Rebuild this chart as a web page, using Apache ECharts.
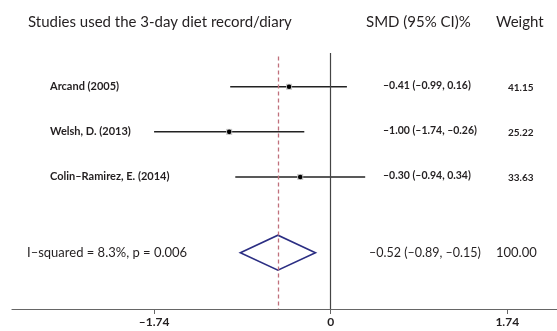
<!DOCTYPE html>
<html>
<head>
<meta charset="utf-8">
<script src="https://cdn.jsdelivr.net/npm/echarts@6/dist/echarts.min.js"></script>
<style>
  html, body { margin: 0; padding: 0; background: #fff; }
  #chart { width: 557px; height: 331px; }
</style>
</head>
<body>
<div id="chart"></div>
<script>
// study data
const studies = ['Arcand (2005)', 'Welsh, D. (2013)', 'Colin–Ramirez, E. (2014)'];
const smd = [-0.41, -1.00, -0.30];
const lower = [-0.99, -1.74, -0.94];
const upper = [0.16, -0.26, 0.34];
const weights = ['41.15', '25.22', '33.63'];
const ciText = ['–0.41 (–0.99, 0.16)', '–1.00 (–1.74, –0.26)', '–0.30 (–0.94, 0.34)'];
const rows = [1, 2, 3];

// pooled estimate
const pooledEst = -0.52;
const pooledLow = -0.89;
const pooledHigh = -0.15;
const pooledRow = 4.68;
const pooledText = '–0.52 (–0.89, –0.15)';
const pooledWeight = '100.00';
const hetText = 'I–squared = 8.3%, p = 0.006';

const tickValues = [-1.74, 0, 1.74];
const tickLabels = ['–1.74', '0', '1.74'];

const textColor = '#231f20';
const fontFamily = 'Lato, "Open Sans", sans-serif';
const lineColor = '#222';
const refColor = '#c0707c'; // 合并效应虚线
const diamondColor = '#2b2e83';

const colLabel = 50;   // 研究名称列
const colCI = 383;     // SMD列
const colWeight = 508; // 权重列

const chart = echarts.init(document.getElementById('chart'));

const studyData = rows.map((r, i) => [lower[i], upper[i], smd[i], r, i]);

chart.setOption({
  animation: false,
  grid: { left: 12, right: 0, top: 53, bottom: 22 },
  xAxis: {
    type: 'value',
    min: -3.14,
    max: 2.23,
    splitLine: { show: false },
    axisLine: { show: true, onZero: false, lineStyle: { color: '#666', width: 1.2 } },
    axisTick: { show: true, length: 5, customValues: tickValues, lineStyle: { color: '#666' } },
    axisLabel: {
      customValues: tickValues,
      margin: 7,
      color: textColor,
      fontFamily: fontFamily,
      fontSize: 12,
      fontWeight: 'bold',
      formatter: (v) => tickLabels[tickValues.indexOf(v)] ?? ''
    }
  },
  yAxis: {
    type: 'value',
    inverse: true,
    min: 0.25,
    max: 5.93,
    show: false
  },
  graphic: [
    { type: 'text', left: 28, top: 15, style: { text: 'Studies used the 3-day diet record/diary', font: '15px ' + fontFamily, fill: textColor } },
    { type: 'text', left: 366, top: 15, style: { text: 'SMD (95% CI)%', font: '15px ' + fontFamily, fill: textColor } },
    { type: 'text', left: 496, top: 15, style: { text: 'Weight', font: '15px ' + fontFamily, fill: textColor } }
  ],
  series: [
    {
      type: 'line',
      data: [],
      silent: true,
      markLine: {
        symbol: 'none',
        silent: true,
        label: { show: false },
        data: [
          [{ coord: [0, 0.25] }, { coord: [0, 5.93] }],
        ],
        lineStyle: { color: '#444', type: 'solid', width: 1.2 }
      }
    },
    {
      type: 'line',
      data: [],
      silent: true,
      markLine: {
        symbol: 'none',
        silent: true,
        label: { show: false },
        data: [
          [{ coord: [pooledEst, 0.33] }, { coord: [pooledEst, 5.93] }],
        ],
        lineStyle: { color: refColor, type: [4, 3], width: 1.3 }
      }
    },
    {
      type: 'custom',
      clip: false,
      data: studyData,
      renderItem: (params, api) => {
        const lo = api.coord([api.value(0), api.value(3)]);
        const hi = api.coord([api.value(1), api.value(3)]);
        const est = api.coord([api.value(2), api.value(3)]);
        const i = api.value(4);
        return {
          type: 'group',
          children: [
            { type: 'line', shape: { x1: lo[0], y1: lo[1], x2: hi[0], y2: hi[1] }, style: { stroke: lineColor, lineWidth: 1.5 } },
            { type: 'rect', shape: { x: est[0] - 3, y: est[1] - 3, width: 6, height: 6 }, style: { fill: '#c8c8c8' } },
            { type: 'circle', shape: { cx: est[0], cy: est[1], r: 2.3 }, style: { fill: '#000' } },
            { type: 'text', x: colLabel, y: est[1], style: { text: studies[i], font: 'bold 11px ' + fontFamily, fill: textColor, verticalAlign: 'middle' } },
            { type: 'text', x: colCI, y: est[1] - 1, style: { text: ciText[i], font: 'bold 10.5px ' + fontFamily, fill: textColor, verticalAlign: 'middle' } },
            { type: 'text', x: colWeight, y: est[1] + 1, style: { text: weights[i], font: 'bold 10px ' + fontFamily, fill: textColor, verticalAlign: 'middle' } }
          ]
        };
      }
    },
    {
      type: 'custom',
      clip: false,
      data: [[pooledLow, pooledHigh, pooledEst, pooledRow]],
      renderItem: (params, api) => {
        const l = api.coord([api.value(0), api.value(3)]);
        const h = api.coord([api.value(1), api.value(3)]);
        const c = api.coord([api.value(2), api.value(3)]);
        const half = 17.5;
        return {
          type: 'group',
          children: [
            {
              type: 'polygon',
              shape: { points: [[l[0], l[1]], [c[0], c[1] - half], [h[0], h[1]], [c[0], c[1] + half]] },
              style: { fill: 'rgba(255,255,255,0)', stroke: diamondColor, lineWidth: 1.6 }
            },
            { type: 'text', x: 27, y: c[1], style: { text: hetText, font: '13px ' + fontFamily, fill: textColor, verticalAlign: 'middle' } },
            { type: 'text', x: 369, y: c[1], style: { text: pooledText, font: '12.5px ' + fontFamily, fill: textColor, verticalAlign: 'middle' } },
            { type: 'text', x: 496, y: c[1], style: { text: pooledWeight, font: '13px ' + fontFamily, fill: textColor, verticalAlign: 'middle' } }
          ]
        };
      }
    }
  ]
});
</script>
</body>
</html>
